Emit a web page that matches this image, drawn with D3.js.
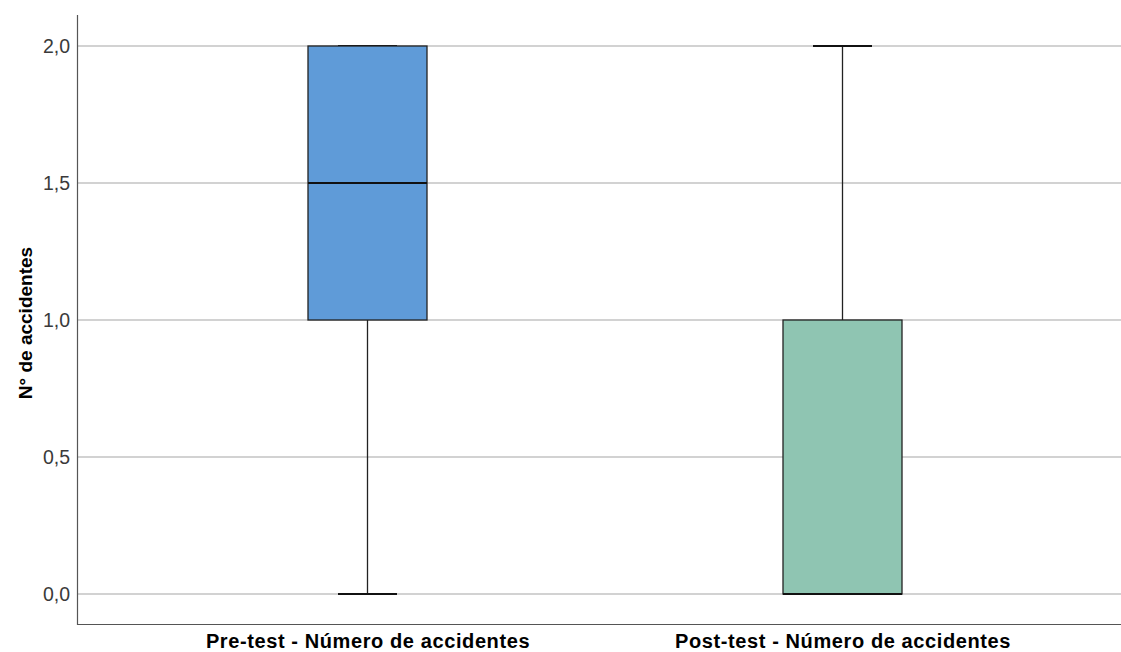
<!DOCTYPE html>
<html>
<head>
<meta charset="utf-8">
<script src="https://cdn.jsdelivr.net/npm/d3@7"></script>
<style>
  html, body { margin: 0; padding: 0; background: #fff; }
  svg { display: block; }
</style>
</head>
<body>
<svg id="chart" width="1121" height="652"></svg>
<script>
// Box-plot summaries for each test
const categories = ["Pre-test - Número de accidentes", "Post-test - Número de accidentes"];
const whiskerLow  = [0, 0];
const q1          = [1, 0];
const median      = [1.5, 0];
const q3          = [2, 1];
const whiskerHigh = [2, 2];
const boxColors   = ["#5f9bd8", "#8fc5b2"];
const yTicks      = [0, 0.5, 1, 1.5, 2];
const yLabel      = "N° de accidentes";

(function () {
  const svg = d3.select("#chart");
  const plotLeft = 78, plotRight = 1121, plotTop = 15, plotBottom = 625;

  const y = d3.scaleLinear().domain([0, 2]).range([594, 46]);
  const x = d3.scalePoint().domain(categories).range([367.5, 842.5]);
  const boxW = 119, capW = 59;

  const fmt = d => d3.format(".1f")(d).replace(".", ",");

  // horizontal gridlines
  svg.append("g")
    .selectAll("line")
    .data(yTicks)
    .join("line")
    .attr("x1", plotLeft).attr("x2", plotRight)
    .attr("y1", d => y(d)).attr("y2", d => y(d))
    .attr("stroke", "#d2d2d2").attr("stroke-width", 2);

  // y axis
  const yAxis = svg.append("g")
    .attr("transform", `translate(${plotLeft},0)`)
    .call(d3.axisLeft(y).tickValues(yTicks).tickFormat(fmt).tickSize(0).tickPadding(8));
  yAxis.select(".domain").remove();
  yAxis.selectAll("text")
    .attr("font-family", "Liberation Sans, Arial, sans-serif")
    .attr("font-size", 19.5).attr("fill", "#3a3a3a");

  svg.append("line")
    .attr("x1", plotLeft - 0.5).attr("x2", plotLeft - 0.5)
    .attr("y1", plotTop).attr("y2", plotBottom)
    .attr("stroke", "#555").attr("stroke-width", 1.2);
  svg.append("line")
    .attr("x1", plotLeft - 1).attr("x2", plotRight)
    .attr("y1", plotBottom - 0.5).attr("y2", plotBottom - 0.5)
    .attr("stroke", "#555").attr("stroke-width", 1.2);

  // x axis labels
  const xAxis = svg.append("g")
    .attr("transform", `translate(0,${plotBottom})`)
    .call(d3.axisBottom(x).tickSize(0).tickPadding(9));
  xAxis.select(".domain").remove();
  xAxis.selectAll("text")
    .attr("font-family", "Liberation Sans, Arial, sans-serif")
    .attr("font-size", 20).attr("font-weight", "bold").attr("fill", "#000")
    .attr("letter-spacing", 0.6);

  // y axis title
  svg.append("text")
    .attr("transform", `translate(32,${(plotTop + plotBottom) / 2 + 3}) rotate(-90)`)
    .attr("text-anchor", "middle")
    .attr("font-family", "Liberation Sans, Arial, sans-serif")
    .attr("font-size", 19).attr("font-weight", "bold").attr("fill", "#000")
    .text(yLabel);

  // boxes
  const data = categories.map((c, i) => ({
    c, lo: whiskerLow[i], q1: q1[i], med: median[i], q3: q3[i], hi: whiskerHigh[i], color: boxColors[i]
  }));

  const g = svg.append("g").selectAll("g").data(data).join("g");

  // whiskers
  g.append("line")
    .attr("x1", d => x(d.c)).attr("x2", d => x(d.c))
    .attr("y1", d => y(d.q3)).attr("y2", d => y(d.hi))
    .attr("stroke", "#222").attr("stroke-width", 1.3);
  g.append("line")
    .attr("x1", d => x(d.c)).attr("x2", d => x(d.c))
    .attr("y1", d => y(d.q1)).attr("y2", d => y(d.lo))
    .attr("stroke", "#222").attr("stroke-width", 1.3);
  // caps
  g.append("line")
    .attr("x1", d => x(d.c) - capW / 2).attr("x2", d => x(d.c) + capW / 2)
    .attr("y1", d => y(d.hi)).attr("y2", d => y(d.hi))
    .attr("stroke", "#111").attr("stroke-width", 2);
  g.append("line")
    .attr("x1", d => x(d.c) - capW / 2).attr("x2", d => x(d.c) + capW / 2)
    .attr("y1", d => y(d.lo)).attr("y2", d => y(d.lo))
    .attr("stroke", "#111").attr("stroke-width", 2);

  // box
  g.append("rect")
    .attr("x", d => x(d.c) - boxW / 2)
    .attr("y", d => y(d.q3))
    .attr("width", boxW)
    .attr("height", d => y(d.q1) - y(d.q3))
    .attr("fill", d => d.color)
    .attr("stroke", "#222").attr("stroke-width", 1.3);

  // median
  g.append("line")
    .attr("x1", d => x(d.c) - boxW / 2).attr("x2", d => x(d.c) + boxW / 2)
    .attr("y1", d => y(d.med)).attr("y2", d => y(d.med))
    .attr("stroke", "#111").attr("stroke-width", 2);
})();
</script>
</body>
</html>
